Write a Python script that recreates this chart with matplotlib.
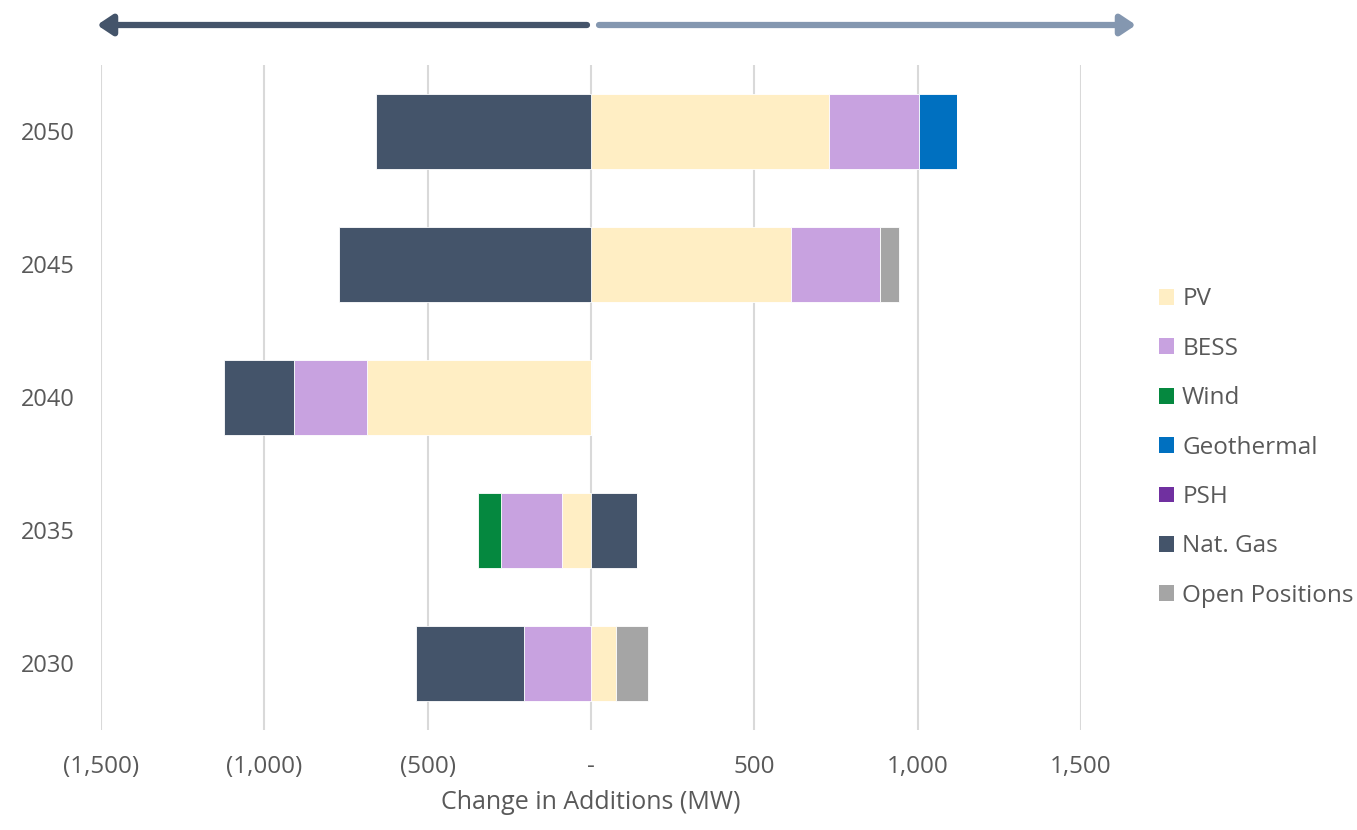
import matplotlib.pyplot as plt
import numpy as np
from matplotlib.patches import Patch

years = ["2030", "2035", "2040", "2045", "2050"]
techs = ["PV", "BESS", "Wind", "Geothermal", "PSH", "Nat. Gas", "Open Positions"]
colors = ["#FFEEC4", "#C8A2E0", "#05883F", "#0070C0", "#7030A0", "#44546A", "#A5A5A5"]

# change in additions by technology (MW), one value per year
pv = [76, -88, -686, 613, 730]
bess = [-206, -187, -222, 273, 273]
wind = [0, -70, 0, 0, 0]
geothermal = [0, 0, 0, 0, 117]
psh = [0, 0, 0, 0, 0]
nat_gas = [-329, 140, -214, -771, -658]
open_positions = [98, 0, 0, 58, 0]

series = [pv, bess, wind, geothermal, psh, nat_gas, open_positions]

text_color = "#595959"
plt.rcParams['font.family'] = ['Open Sans', 'DejaVu Sans']

fig = plt.figure(figsize=(13.57, 8.30), dpi=100)
ax = fig.add_axes([0.0744, 0.1205, 0.7222, 0.8012])

y = np.arange(len(years))
pos_base = np.zeros(len(years))
neg_base = np.zeros(len(years))
for vals, col in zip(series, colors):
    v = np.array(vals, dtype=float)
    left = np.where(v >= 0, pos_base, neg_base)
    ax.barh(y, v, left=left, height=0.57, color=col, edgecolor="white",
            linewidth=0.6, zorder=3)
    pos_base += np.where(v >= 0, v, 0)
    neg_base += np.where(v < 0, v, 0)

ax.set_xlim(-1500, 1500)
ax.set_ylim(-0.5, len(years) - 0.5)
ticks = [-1500, -1000, -500, 0, 500, 1000, 1500]
ax.set_xticks(ticks)
ax.set_xticklabels(["(1,500)", "(1,000)", "(500)", "-", "500", "1,000", "1,500"],
                   fontsize=17.5, color=text_color)
ax.set_yticks(y)
ax.set_yticklabels(years, fontsize=17, color=text_color)
ax.tick_params(axis="both", length=0)
ax.tick_params(axis="x", pad=18)
ax.tick_params(axis="y", pad=19)
ax.grid(axis="x", color="#D9D9D9", linewidth=1.5, zorder=0)
for s in ax.spines.values():
    s.set_visible(False)
ax.set_xlabel("Change in Additions (MW)", fontsize=18, color=text_color,
              labelpad=8)

# direction arrows above the plot
arrow_style = "-|>,head_length=0.45,head_width=0.3"
ax.annotate("", xy=(97, 805), xytext=(587, 805), xycoords="figure pixels",
            arrowprops=dict(arrowstyle=arrow_style, color="#44546A", lw=4.5,
                            mutation_scale=20, shrinkA=0, shrinkB=0))
ax.annotate("", xy=(1136, 805), xytext=(599, 805), xycoords="figure pixels",
            arrowprops=dict(arrowstyle=arrow_style, color="#8497B0", lw=4.5,
                            mutation_scale=20, shrinkA=0, shrinkB=0))

handles = [Patch(facecolor=c, edgecolor="none") for c in colors]
fig.legend(handles, techs, loc="upper left", bbox_to_anchor=(0.838, 0.68),
           frameon=False, fontsize=17.5, labelcolor=text_color,
           handlelength=0.62, handleheight=0.62, handletextpad=0.33,
           labelspacing=1.045)

fig.savefig("out.png", dpi=100)
